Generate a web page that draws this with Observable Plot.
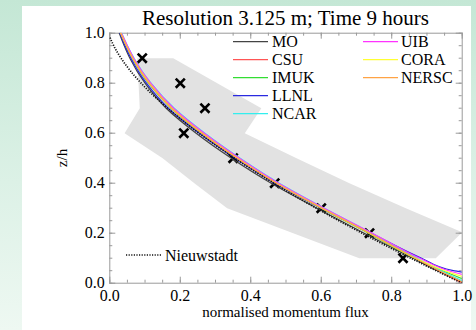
<!DOCTYPE html>
<html>
<head>
<meta charset="utf-8">
<script src="https://cdn.jsdelivr.net/npm/d3@7"></script>
<script src="https://cdn.jsdelivr.net/npm/@observablehq/plot@0.6"></script>
<style>
  html, body { margin: 0; padding: 0; }
  body {
    width: 476px; height: 330px; overflow: hidden; position: relative;
    background: linear-gradient(to bottom, #c4e7d5 0%, #dcf1e6 55%, #eef8f2 100%);
    font-family: "Liberation Serif", "DejaVu Serif", serif;
  }
  #panel { position: absolute; left: 22px; top: 6px; width: 449px; height: 324px; background: #fff; }
  #chart { position: absolute; left: 0; top: 0; }
  #chart svg { background: transparent; overflow: visible; }
  .txt { position: absolute; color: #000; white-space: nowrap; line-height: 1; }
  #title { left: 109px; width: 353px; top: 8px; text-align: center; font-size: 21px; }
  #xlabel { left: 109px; width: 353px; top: 305px; text-align: center; font-size: 15px; }
  #ylabel { left: 62px; top: 158px; font-size: 15px; transform: translate(-50%, -50%) rotate(-90deg); }
</style>
</head>
<body>
<div id="panel"></div>
<div id="chart"></div>
<div class="txt" id="title">Resolution 3.125 m; Time 9 hours</div>
<div class="txt" id="xlabel">normalised momentum flux</div>
<div class="txt" id="ylabel">z/h</div>
<script>
// Heights (z/h) at which each model's flux profile is sampled
const zGrid = [0.05, 0.1, 0.2, 0.3, 0.4, 0.5, 0.6, 0.7, 0.8, 0.9, 0.95, 1.0];

// Normalised momentum flux for each model at the heights above
const fluxMO    = [0.930, 0.860, 0.722, 0.588, 0.458, 0.345, 0.245, 0.160, 0.100, 0.057, 0.041, 0.027];
const fluxCSU   = [0.934, 0.868, 0.738, 0.603, 0.475, 0.364, 0.264, 0.178, 0.113, 0.066, 0.048, 0.032];
const fluxIMUK  = [0.945, 0.865, 0.734, 0.599, 0.471, 0.360, 0.260, 0.174, 0.110, 0.064, 0.046, 0.030];
const fluxLLNL  = [0.975, 0.885, 0.742, 0.600, 0.468, 0.356, 0.254, 0.166, 0.104, 0.060, 0.043, 0.029];
const fluxNCAR  = [0.940, 0.872, 0.744, 0.609, 0.481, 0.370, 0.270, 0.183, 0.117, 0.069, 0.050, 0.034];
const fluxUIB   = [0.962, 0.880, 0.745, 0.608, 0.479, 0.368, 0.268, 0.181, 0.116, 0.068, 0.050, 0.033];
const fluxCORA  = [0.950, 0.868, 0.737, 0.602, 0.473, 0.362, 0.262, 0.176, 0.112, 0.065, 0.047, 0.031];
const fluxNERSC = [0.935, 0.866, 0.736, 0.601, 0.472, 0.361, 0.261, 0.175, 0.111, 0.065, 0.047, 0.031];

// Height at which each profile reaches a flux of 1.0 near the surface
const surfaceZ = [0.004, 0.0, 0.018, 0.044, 0.010, 0.035, 0.027, 0.005];

const modelNames  = ["MO", "CSU", "IMUK", "LLNL", "NCAR", "UIB", "CORA", "NERSC"];
const modelColors = ["#444444", "#ff5555", "#33dd33", "#2a2ae0", "#33eeee", "#ff33ff", "#ffff33", "#ffa345"];
const modelFlux   = [fluxMO, fluxCSU, fluxIMUK, fluxLLNL, fluxNCAR, fluxUIB, fluxCORA, fluxNERSC];

// Nieuwstadt reference profile
const nieuwZ    = [0.0, 0.1, 0.2, 0.3, 0.4, 0.5, 0.6, 0.7, 0.8, 0.9, 0.95, 0.985];
const nieuwFlux = [1.0, 0.854, 0.716, 0.586, 0.465, 0.354, 0.253, 0.164, 0.089, 0.032, 0.011, 0.0];

// Observations (crosses)
const obsFlux = [0.092, 0.200, 0.270, 0.210, 0.350, 0.468, 0.600, 0.737, 0.832];
const obsZ    = [0.9, 0.8, 0.7, 0.6, 0.5, 0.4, 0.3, 0.2, 0.1];

// Outline of the shaded observational spread
const spreadFlux = [0.078, 0.180, 0.430, 0.383, 0.530, 0.680, 0.840, 1.000, 0.925, 0.708, 0.333, 0.240, 0.150, 0.042, 0.085];
const spreadZ    = [0.900, 0.900, 0.700, 0.600, 0.500, 0.400, 0.300, 0.204, 0.100, 0.100, 0.300, 0.400, 0.500, 0.600, 0.700];

// Axis ticks
const majorTicks = [0.0, 0.2, 0.4, 0.6, 0.8, 1.0];
const minorTicks = d3.range(0, 21).map(i => i / 20);

// Tables built from the arrays above
const profiles = modelNames.flatMap((name, i) => [
  {model: name, flux: 1.0, z: surfaceZ[i]},
  ...zGrid.map((z, j) => ({model: name, flux: modelFlux[i][j], z}))
]);
const nieuw = nieuwZ.map((z, i) => ({flux: nieuwFlux[i], z}));
const obs = obsZ.map((z, i) => ({flux: obsFlux[i], z}));
const spread = spreadZ.map((z, i) => ({flux: spreadFlux[i], z}));

const W = 476, H = 330;
const mL = 109.3, mR = 14.3, mT = 32.7, mB = 47.3;
const innerW = W - mL - mR, innerH = H - mT - mB;
const axisGrey = "#9a9a9a";
const serif = "'Liberation Serif', 'DejaVu Serif', serif";

// Short inward ticks on all four sides of the frame
const tickMarks = (ticks, len, axis) => {
  if (axis === "x") return [
    Plot.ruleX(ticks, {x: d => d, insetTop: innerH - len, stroke: axisGrey}),
    Plot.ruleX(ticks, {x: d => d, insetBottom: innerH - len, stroke: axisGrey})
  ];
  return [
    Plot.ruleY(ticks, {y: d => d, insetRight: innerW - len, stroke: axisGrey}),
    Plot.ruleY(ticks, {y: d => d, insetLeft: innerW - len, stroke: axisGrey})
  ];
};

const svg = Plot.plot({
  width: W, height: H,
  marginLeft: mL, marginRight: mR, marginTop: mT, marginBottom: mB,
  style: {background: "transparent", fontFamily: serif, fontSize: "16px", color: "#000"},
  x: {domain: [0, 1]},
  y: {domain: [0, 1]},
  color: {domain: modelNames, range: modelColors},
  marks: [
    // closed outline of the spread, filled
    Plot.line([...spread, spread[0]], {x: "flux", y: "z", fill: "#e2e2e2", stroke: "none"}),
    ...tickMarks(minorTicks, 3, "x"),
    ...tickMarks(majorTicks, 6, "x"),
    ...tickMarks(minorTicks, 3, "y"),
    ...tickMarks(majorTicks, 6, "y"),
    Plot.frame({stroke: axisGrey}),
    Plot.axisX(majorTicks, {tickSize: 0, tickPadding: 6, tickFormat: d3.format(".1f"), label: null, fontSize: 16, fill: "#000"}),
    Plot.axisY(majorTicks, {tickSize: 0, tickPadding: 5, tickFormat: d3.format(".1f"), label: null, fontSize: 16, fill: "#000"}),
    Plot.dot(obs, {x: "flux", y: "z", symbol: "times", r: 4.2, stroke: "#000", strokeWidth: 2.6}),
    Plot.line(profiles, {x: "flux", y: "z", z: "model", stroke: "model", strokeWidth: 1.2, curve: "monotone-y", clip: true}),
    Plot.line(nieuw, {x: "flux", y: "z", stroke: "#111", strokeWidth: 1.7, strokeDasharray: "1.2,1.4", strokeLinecap: "butt", curve: "monotone-y", clip: true})
  ]
});

// In-frame legend
const g = d3.select(svg).append("g")
  .attr("font-family", serif).attr("font-size", 16).attr("fill", "#000").attr("text-anchor", "start");
const cols = [{x0: 233, x1: 268, tx: 272}, {x0: 363, x1: 398, tx: 401}];
modelNames.forEach((name, i) => {
  const c = cols[i < 5 ? 0 : 1];
  const y = 41.7 + (i < 5 ? i : i - 5) * 18;
  g.append("line").attr("x1", c.x0).attr("x2", c.x1).attr("y1", y).attr("y2", y)
    .attr("stroke", modelColors[i]).attr("stroke-width", 1.2);
  g.append("text").attr("x", c.tx).attr("y", y).attr("dy", "0.35em").text(name);
});
g.append("line").attr("x1", 126).attr("x2", 162).attr("y1", 255).attr("y2", 255)
  .attr("stroke", "#111").attr("stroke-width", 1.7).attr("stroke-dasharray", "1.2,1.4");
g.append("text").attr("x", 165).attr("y", 255).attr("dy", "0.35em").text("Nieuwstadt");

document.getElementById("chart").appendChild(svg);
</script>
</body>
</html>
